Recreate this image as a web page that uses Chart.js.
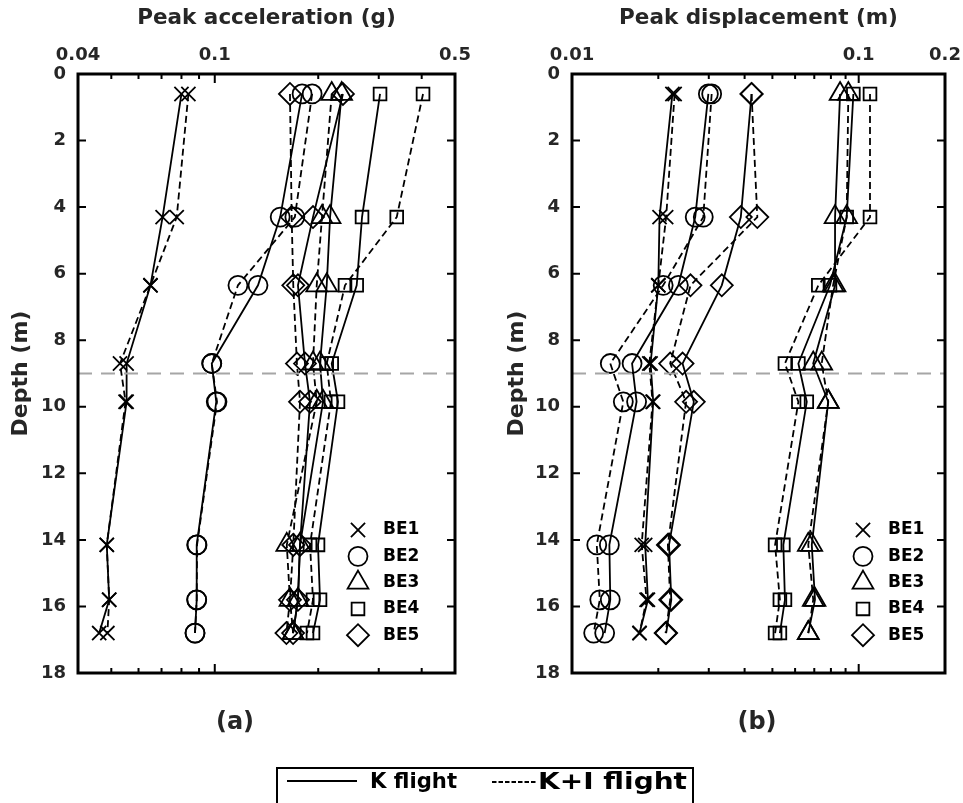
<!DOCTYPE html>
<html>
<head>
<meta charset="utf-8">
<script src="https://cdn.jsdelivr.net/npm/chart.js@4.4.1/dist/chart.umd.min.js"></script>
<style>
  body { margin: 0; background: #fff; }
  #page { position: relative; width: 963px; height: 803px; overflow: hidden; background: #fff; }
  canvas { position: absolute; top: 0; }
</style>
</head>
<body>
<div id="page">
  <canvas id="acc" width="470" height="745" style="left:0;width:470px;height:745px"></canvas>
  <canvas id="disp" width="471" height="745" style="left:492px;width:471px;height:745px"></canvas>
  <svg width="963" height="803" style="position:absolute;left:0;top:0" font-family="DejaVu Sans" font-weight="bold" font-size="22">
    <rect x="277" y="768" width="416" height="60" fill="none" stroke="#000" stroke-width="2"/>
    <line x1="287" y1="781" x2="357" y2="781" stroke="#000" stroke-width="2"/>
    <text x="370" y="788" textLength="87" lengthAdjust="spacingAndGlyphs">K flight</text>
    <line x1="492" y1="782" x2="537" y2="782" stroke="#000" stroke-width="2" stroke-dasharray="4.5 2"/>
    <text x="538" y="789" font-size="23" textLength="149" lengthAdjust="spacingAndGlyphs">K+I flight</text>
  </svg>
</div>
<script>
// depth of each accelerometer (m)
const depths = [0.6, 4.3, 6.35, 8.7, 9.85, 14.15, 15.8, 16.8]
const boreholes = ['BE1', 'BE2', 'BE3', 'BE4', 'BE5']
const depthTicks = [0, 2, 4, 6, 8, 10, 12, 14, 16, 18]
const interfaceDepth = 9

// peak acceleration (g), K flight
const accBE1K = [0.080, 0.0705, 0.065, 0.0554, 0.0554, 0.0485, 0.0493, 0.0461]
const accBE2K = [0.1795, 0.155, 0.1336, 0.098, 0.101, 0.0886, 0.0886, 0.0876]
const accBE3K = [0.234, 0.2165, 0.2117, 0.2024, 0.2065, 0.177, 0.1746, 0.169]
const accBE4K = [0.3026, 0.2682, 0.2588, 0.2189, 0.2283, 0.1997, 0.2024, 0.1931]
const accBE5K = [0.236, 0.1931, 0.1746, 0.183, 0.1893, 0.177, 0.1746, 0.169]
// peak acceleration (g), K+I flight
const accBE1KI = [0.0838, 0.0775, 0.065, 0.053, 0.055, 0.0485, 0.0493, 0.0487]
const accBE2KI = [0.192, 0.171, 0.1168, 0.098, 0.1015, 0.0888, 0.0886, 0.0876]
const accBE3KI = [0.2189, 0.2051, 0.198, 0.1931, 0.198, 0.162, 0.1655, 0.169]
const accBE4KI = [0.4036, 0.3384, 0.2393, 0.2117, 0.2178, 0.1893, 0.1931, 0.1855]
const accBE5KI = [0.1655, 0.1674, 0.1692, 0.1734, 0.177, 0.1692, 0.1655, 0.1616]

// peak displacement (m), K flight
const dispBE1K = [0.0224, 0.0202, 0.0200, 0.0188, 0.0192, 0.0180, 0.0184, 0.0172]
const dispBE2K = [0.0299, 0.0269, 0.0235, 0.0162, 0.0168, 0.0135, 0.0136, 0.0130]
const dispBE3K = [0.0861, 0.0827, 0.0827, 0.0694, 0.0783, 0.0686, 0.0704, 0.0667]
const dispBE4K = [0.0958, 0.0908, 0.0794, 0.0616, 0.0659, 0.0546, 0.0553, 0.0531]
const dispBE5K = [0.0423, 0.0388, 0.0333, 0.0243, 0.0266, 0.0218, 0.0222, 0.0213]
// peak displacement (m), K+I flight
const dispBE1KI = [0.0228, 0.0213, 0.0200, 0.0186, 0.0191, 0.0175, 0.0182, 0.0172]
const dispBE2KI = [0.0307, 0.0287, 0.0208, 0.0136, 0.0151, 0.0122, 0.0125, 0.0119]
const dispBE3KI = [0.0920, 0.0908, 0.0814, 0.0743, 0.0783, 0.0667, 0.0694, 0.0667]
const dispBE4KI = [0.1095, 0.1095, 0.0723, 0.0553, 0.0616, 0.0511, 0.0531, 0.0511]
const dispBE5KI = [0.0423, 0.0443, 0.0259, 0.0220, 0.0250, 0.0216, 0.0220, 0.0212]

// axis ticks
const accTicks = [0.04, 0.1, 0.5]
const accMinor = [0.05, 0.06, 0.07, 0.08, 0.09, 0.2, 0.3, 0.4]
const dispTicks = [0.01, 0.1, 0.2]
const dispMinor = [0.02, 0.03, 0.04, 0.05, 0.06, 0.07, 0.08, 0.09]

const markers = ['crossRot', 'circle', 'triangle', 'rect', 'rectRot']
const markerSize = [10, 9.5, 12, 9, 11]

Chart.defaults.font.family = 'DejaVu Sans'
Chart.defaults.font.weight = 'bold'
Chart.defaults.color = '#262626'

const series = (values, i, dashed) => ({
  label: boreholes[i] + (dashed ? ' K+I' : ' K'),
  data: depths.map((d, j) => ({ x: values[j], y: d })),
  borderColor: '#000',
  borderWidth: 1.8,
  borderDash: dashed ? [7, 4] : [],
  pointStyle: markers[i],
  pointRadius: markerSize[i],
  pointBorderWidth: 1.8,
  pointBorderColor: '#000',
  pointBackgroundColor: 'rgba(0,0,0,0)',
  tension: 0,
  order: 1,
})

// box, inward ticks, borehole key and panel letter
const frame = {
  id: 'frame',
  afterDatasetsDraw(chart, args, opts) {
    const { ctx, chartArea: a, scales: { x, y } } = chart
    ctx.save()
    ctx.strokeStyle = '#000'
    ctx.lineWidth = 2
    ctx.beginPath()
    const xt = (v, len) => {
      const px = x.getPixelForValue(v)
      ctx.moveTo(px, a.top); ctx.lineTo(px, a.top + len)
      ctx.moveTo(px, a.bottom); ctx.lineTo(px, a.bottom - len)
    }
    opts.minor.forEach(v => xt(v, 5))
    opts.major.forEach(v => xt(v, 9))
    depthTicks.forEach(v => {
      const py = y.getPixelForValue(v)
      ctx.moveTo(a.left, py); ctx.lineTo(a.left + 8, py)
      ctx.moveTo(a.right, py); ctx.lineTo(a.right - 8, py)
    })
    ctx.stroke()
    ctx.lineWidth = 3
    ctx.strokeRect(a.left, a.top, a.width, a.height)

    // borehole key
    ctx.lineWidth = 1.8
    boreholes.forEach((name, i) => {
      const ky = opts.keyY + i * 26.3
      ctx.fillStyle = 'rgba(0,0,0,0)'
      Chart.helpers.drawPoint(ctx, { pointStyle: markers[i], radius: markerSize[i], borderWidth: 1.8, rotation: 0 }, opts.keyX, ky)
      ctx.fillStyle = '#000'
      ctx.font = 'bold 17px "DejaVu Sans"'
      ctx.textBaseline = 'middle'
      ctx.textAlign = 'left'
      ctx.fillText(name, opts.keyX + 25, ky)
    })

    ctx.fillStyle = '#262626'
    ctx.font = 'bold 24px "DejaVu Sans"'
    ctx.textAlign = 'center'
    ctx.textBaseline = 'middle'
    ctx.fillText(opts.letter, opts.letterX, 723)
    ctx.restore()
  },
}

const panel = (id, cfg) => new Chart(document.getElementById(id), {
  type: 'line',
  data: {
    datasets: [
      ...cfg.k.map((v, i) => series(v, i, false)),
      ...cfg.ki.map((v, i) => series(v, i, true)),
      {
        label: 'interface',
        data: [{ x: cfg.ticks[0], y: interfaceDepth }, { x: cfg.ticks[2], y: interfaceDepth }],
        borderColor: '#a6a6a6',
        borderWidth: 2,
        borderDash: [14, 9],
        pointRadius: 0,
        order: 0,
      },
    ],
  },
  options: {
    responsive: false,
    animation: false,
    devicePixelRatio: 1,
    layout: { padding: { left: 0, top: 0, right: cfg.padRight, bottom: 72 } },
    scales: {
      x: {
        type: 'logarithmic',
        position: 'top',
        min: cfg.ticks[0],
        max: cfg.ticks[2],
        afterBuildTicks: s => { s.ticks = cfg.ticks.map(v => ({ value: v })) },
        afterFit: s => { s.height = 74; s.paddingLeft = 0; s.paddingRight = 0 },
        ticks: { callback: v => String(v), padding: 8, font: { size: 18 }, maxRotation: 0, autoSkip: false },
        grid: { display: false, drawTicks: false },
        border: { display: false },
        title: { display: true, text: cfg.title, font: { size: 21.5 }, padding: { top: 6 } },
      },
      y: {
        type: 'linear',
        reverse: true,
        min: 0,
        max: 18,
        afterBuildTicks: s => { s.ticks = depthTicks.map(v => ({ value: v })) },
        afterFit: s => { s.width = cfg.axisWidth; s.paddingTop = 0; s.paddingBottom = 0 },
        ticks: { padding: 12, font: { size: 18 } },
        grid: { display: false, drawTicks: false },
        border: { display: false },
        title: { display: true, text: 'Depth (m)', font: { size: 22 }, padding: { top: cfg.titlePad } },
      },
    },
    plugins: {
      legend: { display: false },
      tooltip: { enabled: false },
      frame: { major: cfg.major, minor: cfg.minor, keyX: cfg.keyX, keyY: 530, letter: cfg.letter, letterX: cfg.letterX },
    },
  },
  plugins: [frame],
})

panel('acc', {
  title: 'Peak acceleration (g)',
  k: [accBE1K, accBE2K, accBE3K, accBE4K, accBE5K],
  ki: [accBE1KI, accBE2KI, accBE3KI, accBE4KI, accBE5KI],
  ticks: accTicks, major: [0.1], minor: accMinor,
  axisWidth: 78, titlePad: 8, padRight: 15,
  keyX: 358, letter: '(a)', letterX: 235,
})

panel('disp', {
  title: 'Peak displacement (m)',
  k: [dispBE1K, dispBE2K, dispBE3K, dispBE4K, dispBE5K],
  ki: [dispBE1KI, dispBE2KI, dispBE3KI, dispBE4KI, dispBE5KI],
  ticks: dispTicks, major: [0.1], minor: dispMinor,
  axisWidth: 80, titlePad: 12, padRight: 18,
  keyX: 371, letter: '(b)', letterX: 265,
})
</script>
</body>
</html>
